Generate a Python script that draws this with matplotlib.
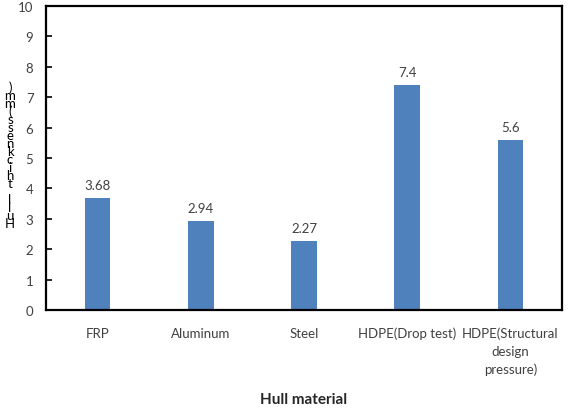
import matplotlib.pyplot as plt

materials = ["FRP", "Aluminum", "Steel", "HDPE(Drop test)", "HDPE(Structural\ndesign\npressure)"]
thickness = [3.68, 2.94, 2.27, 7.4, 5.6]
value_labels = ["3.68", "2.94", "2.27", "7.4", "5.6"]
y_ticks = list(range(0, 11))
y_label = "Hull thickness(mm)"

plt.rcParams['font.family'] = ['Lato', 'DejaVu Sans']

fig = plt.figure(figsize=(5.68, 4.14), dpi=100)
ax = fig.add_axes([46 / 568, 1 - 311 / 414, 516 / 568, 304 / 414])

x = range(len(materials))
ax.bar(x, thickness, width=0.25, color="#4F81BD", zorder=2)
for xi, v, lab in zip(x, thickness, value_labels):
    ax.text(xi, v + 0.22, lab, ha="center", va="bottom", fontsize=9.5, color="#404040")

ax.set_xlim(-0.5, len(materials) - 0.5)
ax.set_ylim(0, 10)
ax.set_yticks(y_ticks)
ax.set_xticks(list(x))
ax.set_xticklabels(materials, fontsize=9.5, color="#404040", linespacing=1.55)
ax.tick_params(axis="x", length=0, pad=12)
ax.tick_params(axis="y", direction="in", length=4, width=1.2, labelsize=9.5,
               labelcolor="#404040", pad=9)
for s in ax.spines.values():
    s.set_linewidth(1.6)
    s.set_color("black")

ax.set_xlabel("Hull material", fontsize=11, fontweight="bold", color="#262626", labelpad=12)

# stacked y label: upright characters read bottom to top, squeezed together
fig.text(10 / 568, 1 - 230 / 414, "\n".join(reversed(y_label)), ha="center", va="bottom",
         fontsize=9.5, color="black", linespacing=0.6)

fig.savefig("out.png", dpi=100)
